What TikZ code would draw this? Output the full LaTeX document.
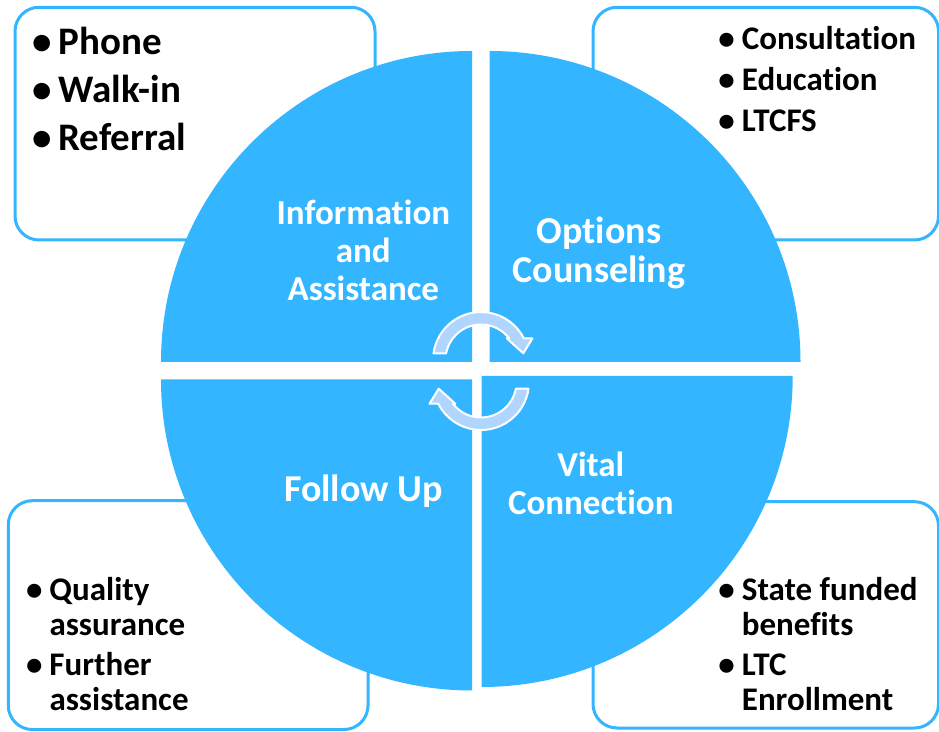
\documentclass[tikz,border=0pt]{standalone}
\usepackage{fontspec}
\setmainfont{Carlito}[Ligatures={NoCommon}]
\usetikzlibrary{calc}
\definecolor{segblue}{RGB}{51,182,255}
\definecolor{arrblue}{RGB}{176,214,255}
\newcommand{\bul}[1]{\llap{\textbullet\hspace{7pt}}#1}
\newcommand{\turnarrow}{(172:48) arc[start angle=172, end angle=26.9, radius=48] -- (51.5,21.7) -- (42.3,6.7) -- (25.7,21.7) -- (28.1,21.7) arc[start angle=37.7, end angle=169.1, radius=35.5] -- cycle}
\tikzset{
  x=1pt, y=1pt,
  seg_fill/.style = {fill=segblue},
  box_line/.style = {draw=segblue, line width=3pt, rounded corners=24pt, fill=white},
  cyc_arrow/.style = {fill=arrblue, draw=white, line width=2pt, line join=round},
  lbl_w/.style = {inner sep=0pt, anchor=base, text=white, font=\bfseries},
  lst_b/.style = {inner sep=0pt, anchor=base west, text=black, font=\bfseries}
}

\begin{document}
\begin{tikzpicture}
\useasboundingbox (0,0) rectangle (939,731);
\fill[white] (0,0) rectangle (939,731);

\draw[box_line] (15,491) rectangle (375,723.7);
\draw[box_line] (593,491) rectangle (938.5,723.7);
\draw[box_line] (8.3,1.5) rectangle (368,230.3);
\draw[box_line] (593,3) rectangle (938.5,229.3);

\fill[seg_fill] (472,369) -- ++(-311,0) arc[start angle=180, end angle=90, radius=311] -- cycle;
\fill[seg_fill] (489.5,369) -- ++(0,311) arc[start angle=90, end angle=0, radius=311] -- cycle;
\fill[seg_fill] (472,351.5) -- ++(0,-311) arc[start angle=270, end angle=180, radius=311] -- cycle;
\fill[seg_fill] (481.7,355) -- ++(311,0) arc[start angle=0, end angle=-90, radius=311] -- cycle;

\begin{scope}[shift={(481,371)}]
  \filldraw[cyc_arrow] \turnarrow;
\end{scope}
\begin{scope}[shift={(481,349)}, rotate=180]
  \filldraw[cyc_arrow] \turnarrow;
\end{scope}

\node[lbl_w] (info) at (363.3,506) {\fontsize{35}{37.8}\selectfont
  \begin{tabular}[t]{@{}c@{}}Information\\ and\\ Assistance\end{tabular}};
\node[lbl_w] (options) at (599,487.7) {\fontsize{38}{39.4}\selectfont
  \begin{tabular}[t]{@{}c@{}}Options\\ Counseling\end{tabular}};
\node[lbl_w] (followup) at (363.3,229.3) {\fontsize{38}{40}\selectfont Follow Up};
\node[lbl_w] (vital) at (590.8,254.3) {\fontsize{35}{38.3}\selectfont
  \begin{tabular}[t]{@{}c@{}}Vital\\ Connection\end{tabular}};

\node[lst_b] (intake) at (58.3,676) {\fontsize{39}{48}\selectfont
  \begin{tabular}[t]{@{}l@{}}\bul{Phone}\\ \bul{Walk-in}\\ \bul{Referral}\end{tabular}};
\node[lst_b] (counsel) at (741.7,681) {\fontsize{33}{40.8}\selectfont
  \begin{tabular}[t]{@{}l@{}}\bul{Consultation}\\ \bul{Education}\\ \bul{LTCFS}\end{tabular}};
\node[lst_b] (connect) at (741.7,130.3) {\fontsize{33}{35}\selectfont
  \begin{tabular}[t]{@{}l@{}}\bul{State funded}\\ benefits\\[5pt] \bul{LTC}\\ Enrollment\end{tabular}};
\node[lst_b] (follow) at (49.3,131) {\fontsize{33}{35}\selectfont
  \begin{tabular}[t]{@{}l@{}}\bul{Quality}\\ assurance\\[5pt] \bul{Further}\\ assistance\end{tabular}};
\end{tikzpicture}
\end{document}
